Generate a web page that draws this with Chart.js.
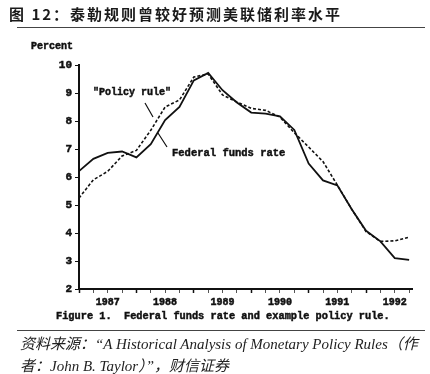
<!DOCTYPE html>
<html>
<head>
<meta charset="utf-8">
<script src="https://cdn.jsdelivr.net/npm/chart.js@4"></script>
<style>
  body { margin:0; background:#fff; }
  #wrap { position:relative; width:430px; height:374px; overflow:hidden; }
  #c { position:absolute; left:0; top:0; }
  .t { position:absolute; white-space:nowrap; color:#111; }
  .mono { font-family:"Liberation Mono", monospace; font-weight:bold; font-size:10px; -webkit-text-stroke:0.45px #111; }
  #title { left:9px; top:3px; font-family:"Noto Sans CJK SC"; font-weight:700; font-size:15px; letter-spacing:2px; color:#1a1a1a; }
  .rule { position:absolute; left:17px; width:408px; height:0; border-top:1.5px solid #444; }
  .src { font-family:"Liberation Serif","Noto Sans CJK SC"; font-style:italic; font-size:15px; color:#222; left:20px; }
</style>
</head>
<body>
<div id="wrap">
  <canvas id="c" width="430" height="374"></canvas>
  <div id="title" class="t">图 12：泰勒规则曾较好预测美联储利率水平</div>
  <div class="rule" style="top:27px"></div>
  <div class="t mono" style="left:31px;top:41px">Percent</div>
  <div class="t mono" style="left:93px;top:87px">"Policy rule"</div>
  <div class="t mono" style="left:172px;top:147px;font-size:10.5px">Federal funds rate</div>
  <div class="t mono" style="left:56px;top:310px;font-size:10.3px">Figure 1.&nbsp; Federal funds rate and example policy rule.</div>
  <div class="rule" style="top:330px"></div>
  <div class="t src" style="top:332px">资料来源：“A Historical Analysis of Monetary Policy Rules（作</div>
  <div class="t src" style="top:354px">者：John B. Taylor）”，财信证券</div>
</div>
<script>
// quarterly, 1987Q1 .. 1992Q4
const quarters = ['1987Q1','1987Q2','1987Q3','1987Q4','1988Q1','1988Q2','1988Q3','1988Q4',
  '1989Q1','1989Q2','1989Q3','1989Q4','1990Q1','1990Q2','1990Q3','1990Q4',
  '1991Q1','1991Q2','1991Q3','1991Q4','1992Q1','1992Q2','1992Q3','1992Q4'];
const fedFunds = [6.21,6.65,6.86,6.91,6.70,7.17,8.03,8.50,9.45,9.72,9.10,8.66,
  8.30,8.26,8.17,7.68,6.48,5.88,5.70,4.85,4.08,3.70,3.10,3.04];
const policyRule = [5.25,5.90,6.20,6.75,6.95,7.67,8.50,8.75,9.57,9.68,8.93,8.68,
  8.45,8.38,8.14,7.58,7.07,6.55,5.71,4.85,4.05,3.70,3.72,3.85];
const yearLabels = ['1987','1988','1989','1990','1991','1992'];

function qx(q){ return parseInt(q.slice(0,4)) + (parseInt(q.slice(5))-1)*0.25; }
const fedPts = quarters.map((q,i)=>({x:qx(q), y:fedFunds[i]}));
const rulePts = quarters.map((q,i)=>({x:qx(q), y:policyRule[i]}));

const leaders = {
  id:'leaders',
  afterDraw(chart){
    const ctx = chart.ctx;
    ctx.save();
    ctx.strokeStyle = '#111';
    ctx.lineWidth = 1.2;
    ctx.beginPath();
    ctx.moveTo(145,103); ctx.lineTo(153,117);
    ctx.moveTo(158,133); ctx.lineTo(167,147);
    ctx.stroke();
    ctx.restore();
  }
};

const tickFont = {family:'Liberation Mono', weight:'bold', size:10};

new Chart('c', {
  type:'line',
  data:{
    datasets:[{
      label:'Federal funds rate',
      data:fedPts,
      borderColor:'#111',
      borderWidth:1.8,
      pointRadius:0,
      tension:0,
      fill:false
    },{
      label:'Policy rule',
      data:rulePts,
      borderColor:'#111',
      borderWidth:1.6,
      borderDash:[3,2],
      pointRadius:0,
      tension:0,
      fill:false
    }]
  },
  options:{
    responsive:false,
    animation:false,
    devicePixelRatio:1,
    layout:{padding:{left:0, top:65, right:18, bottom:0}},
    plugins:{legend:{display:false}, tooltip:{enabled:false}},
    scales:{
      x:{
        type:'linear',
        min:1987, max:1992.8,
        afterFit(s){ s.height = 85; },
        afterBuildTicks(s){
          const t = [];
          for (let y = 0; y < yearLabels.length; y++)
            for (let k = 0; k < 4; k++) t.push({value: +yearLabels[y] + k*0.25});
          s.ticks = t;
        },
        grid:{drawOnChartArea:false, drawTicks:true, tickLength:4,
          tickColor:(c)=> (c.tick && c.tick.value % 1 === 0) ? '#111' : '#555',
          tickWidth:(c)=> (c.tick && c.tick.value % 1 === 0) ? 1.5 : 1},
        border:{display:true, color:'#111', width:2},
        ticks:{
          autoSkip:false, maxRotation:0, padding:3, color:'#111', font:tickFont,
          textStrokeColor:'#111', textStrokeWidth:0.5,
          callback:(v)=> (v % 1 === 0.5) ? String(Math.floor(v)) : ''
        }
      },
      y:{
        min:2, max:10,
        afterFit(s){ s.width = 79; },
        grid:{drawOnChartArea:false, drawTicks:true, tickLength:4, tickColor:'#111'},
        border:{display:true, color:'#111', width:2},
        ticks:{stepSize:1, padding:3, color:'#111', font:{family:'Liberation Mono', weight:'bold', size:11},
          textStrokeColor:'#111', textStrokeWidth:0.5}
      }
    }
  },
  plugins:[leaders]
});
</script>
</body>
</html>
